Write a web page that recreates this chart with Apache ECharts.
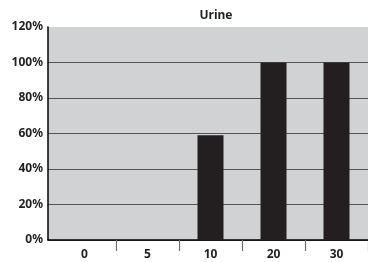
<!DOCTYPE html>
<html>
<head>
<meta charset="utf-8">
<script src="https://cdn.jsdelivr.net/npm/echarts@6/dist/echarts.min.js"></script>
<style>
  html, body { margin: 0; padding: 0; background: #fff; }
  #main { width: 368px; height: 262px; }
</style>
</head>
<body>
<div id="main"></div>
<script>
'use strict';
// urine chart data
var categories = ['0', '5', '10', '20', '30'];
var values = [0, 0, 59, 100, 100];
var yTicks = [0, 20, 40, 60, 80, 100, 120];

var fontFamily = '"Noto Sans", "DejaVu Sans", sans-serif';
var textColor = '#231f20';

var chart = echarts.init(document.getElementById('main'), null, {renderer: 'canvas'});

chart.setOption({
    animation: false,
    title: {
        text: 'Urine',
        left: 211,
        textAlign: 'center',
        top: 5,
        textStyle: {fontFamily: fontFamily, fontSize: 12, fontWeight: 'bold', color: textColor}
    },
    grid: [
        // background grid: gray panel, y axis, gridlines, bottom line
        {left: 48, right: 0, top: 27, bottom: 22, show: true, backgroundColor: '#d1d2d4', borderWidth: 0},
        // bars sit a bit right of the y axis line
        {left: 53, width: 318, top: 27, bottom: 22}
    ],
    xAxis: [
        {
            gridIndex: 0,
            type: 'category',
            data: categories,
            axisLine: {show: true, lineStyle: {color: '#000', width: 1.5}},
            axisTick: {show: false},
            axisLabel: {show: false},
            splitLine: {show: false}
        },
        {
            gridIndex: 1,
            type: 'category',
            data: categories,
            axisLine: {show: false},
            axisTick: {
                show: true,
                length: 11,
                interval: function (index) { return index > 0; },
                lineStyle: {color: '#6d6d6d', width: 1.2}
            },
            axisLabel: {
                interval: 0,
                margin: 9,
                fontFamily: fontFamily,
                fontSize: 12,
                fontWeight: 'bold',
                color: textColor
            }
        }
    ],
    yAxis: [
        {
            gridIndex: 0,
            type: 'value',
            min: yTicks[0],
            max: yTicks[yTicks.length - 1],
            interval: 20,
            axisLine: {show: true, lineStyle: {color: '#000', width: 1.5}},
            axisTick: {show: false},
            axisLabel: {
                margin: 5,
                formatter: '{value}%',
                fontFamily: fontFamily,
                fontSize: 12,
                fontWeight: 'bold',
                color: textColor
            },
            splitLine: {
                show: true,
                lineStyle: {color: '#555', width: 1},
                showMaxLine: false
            }
        },
        {
            gridIndex: 1,
            type: 'value',
            min: yTicks[0],
            max: yTicks[yTicks.length - 1],
            interval: 20,
            show: false,
            splitLine: {show: false}
        }
    ],
    series: [{
        type: 'bar',
        xAxisIndex: 1,
        yAxisIndex: 1,
        data: values,
        barWidth: 26,
        itemStyle: {color: '#231f20'}
    }]
});
</script>
</body>
</html>
